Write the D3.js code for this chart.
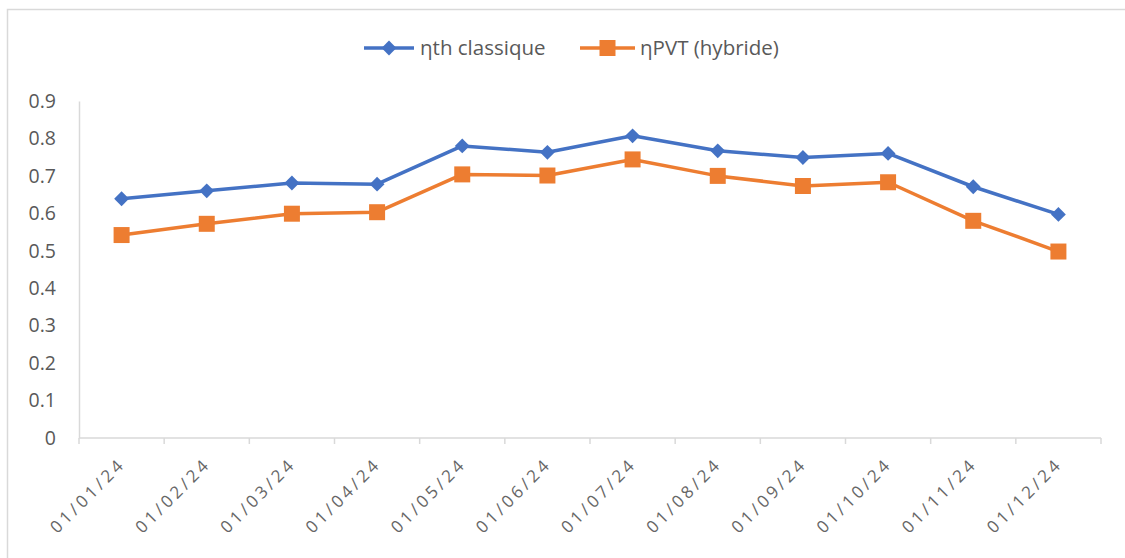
<!DOCTYPE html>
<html>
<head>
<meta charset="utf-8">
<script src="https://cdn.jsdelivr.net/npm/d3@7"></script>
<style>
  html, body { margin: 0; padding: 0; background: #fff; }
  svg { display: block; }
</style>
</head>
<body>
<svg id="chart" width="1125" height="558"></svg>
<script>
// Monthly efficiency, 2024
const months = ["01/01/24","01/02/24","01/03/24","01/04/24","01/05/24","01/06/24",
                "01/07/24","01/08/24","01/09/24","01/10/24","01/11/24","01/12/24"];
const etaThermal = [0.639, 0.660, 0.681, 0.678, 0.780, 0.763, 0.807, 0.767, 0.749, 0.760, 0.671, 0.597];
const etaPVT     = [0.542, 0.572, 0.599, 0.603, 0.704, 0.701, 0.744, 0.700, 0.673, 0.683, 0.580, 0.498];
const yTicks = [0, 0.1, 0.2, 0.3, 0.4, 0.5, 0.6, 0.7, 0.8, 0.9];
const seriesNames = ["ηth classique", "ηPVT (hybride)"];

const blue = "#4472C4", orange = "#ED7D31";
const font = "'Open Sans', 'Noto Sans', sans-serif";

const svg = d3.select("#chart");
const W = 1125, H = 558;
const plot = { left: 79, right: 1101, top: 101, bottom: 438 };

// chart frame
svg.append("rect")
  .attr("x", 7.5).attr("y", 9.5)
  .attr("width", W + 10).attr("height", H + 10)
  .attr("fill", "#fff").attr("stroke", "#D9D9D9").attr("stroke-width", 1.5);

const x = d3.scaleBand().domain(months).range([plot.left, plot.right]).padding(0);
const y = d3.scaleLinear().domain([0, 0.9]).range([plot.bottom, plot.top]);

// y axis
const yAxis = svg.append("g").attr("transform", `translate(${plot.left},0)`)
  .call(d3.axisLeft(y).tickValues(yTicks).tickSize(0).tickPadding(23)
        .tickFormat(d => d === 0 ? "0" : d3.format(".1f")(d)));
yAxis.select(".domain").attr("stroke", "#D9D9D9").attr("stroke-width", 1.5);
yAxis.selectAll("text").attr("fill", "#595959").style("font-family", font).style("font-size", "19.5px");

// x axis with ticks at category boundaries
const xAxis = svg.append("g").attr("transform", `translate(0,${plot.bottom})`);
xAxis.append("line")
  .attr("x1", plot.left).attr("x2", plot.right)
  .attr("stroke", "#D9D9D9").attr("stroke-width", 1.5);
const bounds = months.map(m => x(m)).concat([plot.right]);
xAxis.selectAll("line.tick").data(bounds).join("line")
  .attr("class", "tick")
  .attr("x1", d => d).attr("x2", d => d).attr("y1", 0).attr("y2", 6)
  .attr("stroke", "#D9D9D9").attr("stroke-width", 1.5);
xAxis.selectAll("text").data(months).join("text")
  .attr("transform", m => `translate(${x(m) + x.bandwidth() / 2 + 5},${27}) rotate(-45)`)
  .attr("text-anchor", "end")
  .attr("fill", "#666666")
  .style("font-family", font).style("font-size", "17px").style("letter-spacing", "3.4px")
  .text(m => m);

const line = d3.line().x((d, i) => x(months[i]) + x.bandwidth() / 2).y(d => y(d));

function drawSeries(values, color, shape) {
  svg.append("path").datum(values)
    .attr("d", line).attr("fill", "none")
    .attr("stroke", color).attr("stroke-width", 3.5).attr("stroke-linejoin", "round");
  const sym = shape === "diamond"
    ? d3.symbol().type(d3.symbolSquare).size(110)
    : d3.symbol().type(d3.symbolSquare).size(256);
  svg.selectAll(null).data(values).join("path")
    .attr("d", sym)
    .attr("transform", (d, i) => `translate(${x(months[i]) + x.bandwidth() / 2},${y(d)})` + (shape === "diamond" ? " rotate(45)" : ""))
    .attr("fill", color);
}
drawSeries(etaThermal, blue, "diamond");
drawSeries(etaPVT, orange, "square");

// legend
const legend = [
  { name: seriesNames[0], color: blue, shape: "diamond", x0: 364, x1: 414, tx: 420 },
  { name: seriesNames[1], color: orange, shape: "square", x0: 580, x1: 635, tx: 640 }
];
const ly = 48;
legend.forEach(l => {
  svg.append("line").attr("x1", l.x0).attr("x2", l.x1).attr("y1", ly).attr("y2", ly)
    .attr("stroke", l.color).attr("stroke-width", 3.5);
  svg.append("path")
    .attr("d", d3.symbol().type(d3.symbolSquare).size(l.shape === "diamond" ? 110 : 256)())
    .attr("transform", `translate(${(l.x0 + l.x1) / 2},${ly})` + (l.shape === "diamond" ? " rotate(45)" : ""))
    .attr("fill", l.color);
  svg.append("text").attr("x", l.tx).attr("y", ly + 7)
    .attr("fill", "#595959")
    .style("font-family", font).style("font-size", "20.5px")
    .text(l.name);
});
</script>
</body>
</html>
